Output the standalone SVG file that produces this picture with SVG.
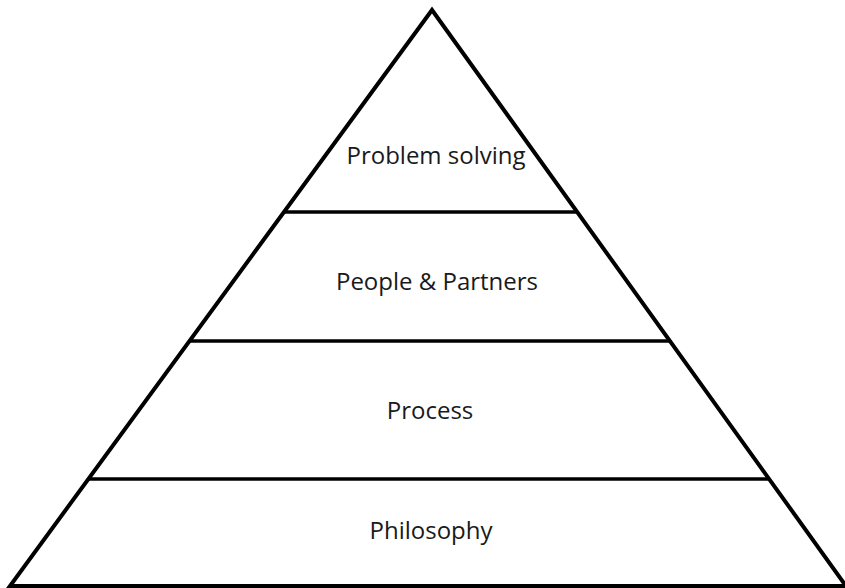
<svg xmlns="http://www.w3.org/2000/svg" width="845" height="588" viewBox="0 0 845 588">
<style>
.edge{fill:none;stroke:#000;stroke-width:4;stroke-linejoin:miter}
.div{stroke:#000;stroke-width:3.5}
.lbl{font-family:"Open Sans","Liberation Sans",sans-serif;font-size:24px;fill:#1a1a1a;text-anchor:middle}
</style>
<rect width="845" height="588" fill="#fff"/>
<g id="connectors">
<polygon class="edge" points="432,10 10,586 846,586"/>
<line class="div" x1="284" y1="212" x2="577" y2="212"/>
<line class="div" x1="190" y1="341" x2="670" y2="341"/>
<line class="div" x1="88" y1="479" x2="769" y2="479"/>
</g>
<g id="problem-solving"><text class="lbl" x="436" y="164">Problem solving</text></g>
<g id="people-partners"><text class="lbl" x="437" y="290">People &amp; Partners</text></g>
<g id="process"><text class="lbl" x="430" y="419">Process</text></g>
<g id="philosophy"><text class="lbl" x="431" y="539">Philosophy</text></g>
</svg>
